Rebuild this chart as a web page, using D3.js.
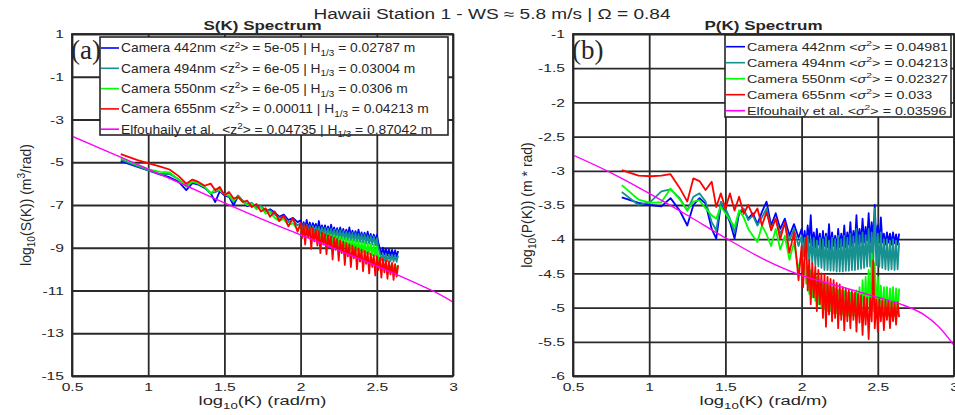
<!DOCTYPE html>
<meta charset='utf-8'>
<style>
    body { margin: 0; background: #fff; }
    svg { display: block; }
    text { font-family: 'Liberation Sans', Arial, Helvetica, sans-serif; fill: #262626; }
    .tick line { stroke: #2a2a2a; stroke-width: 1.8; }
</style>
<body>
<div id='chart'></div>
<script src='https://d3js.org/d3.v7.min.js'></script>
<script>
    // shared wavenumber grid, log10(K)
    const logK = [0.82, 0.93, 1.01, 1.08, 1.14, 1.20, 1.25, 1.29, 1.33, 1.37, 1.41, 1.44, 1.47, 1.50, 1.53,
        1.56, 1.59, 1.62, 1.65, 1.68, 1.71, 1.74, 1.77, 1.80, 1.83, 1.86, 1.89, 1.92, 1.95, 1.98,
        2.00, 2.01, 2.02, 2.03, 2.04, 2.05, 2.06, 2.07, 2.08, 2.09, 2.10, 2.11, 2.12, 2.13, 2.14, 2.15,
        2.16, 2.17, 2.18, 2.19, 2.20, 2.21, 2.22, 2.23, 2.24, 2.25, 2.26, 2.27, 2.28, 2.29, 2.30, 2.31,
        2.32, 2.33, 2.34, 2.35, 2.36, 2.37, 2.38, 2.39, 2.40, 2.41, 2.42, 2.43, 2.44, 2.45, 2.46, 2.47,
        2.48, 2.49, 2.50, 2.51, 2.52, 2.53, 2.54, 2.55, 2.56, 2.57, 2.58, 2.59, 2.60, 2.61, 2.62, 2.63, 2.64];

    // S(K) spectra, log10
    const s442 = [-4.95, -5.22, -5.40, -5.58, -5.70, -5.92, -6.30, -5.98, -6.05, -6.20, -6.45, -6.86, -6.35, -6.55, -6.62,
        -7.00, -6.60, -6.80, -7.05, -6.95, -7.15, -7.05, -7.30, -7.20, -7.35, -7.55, -7.45, -7.70, -7.60, -7.80,
        -7.72, -8.05, -7.80, -8.10, -7.70, -8.12, -7.82, -8.15, -7.85, -8.05, -7.88, -8.20, -7.75, -8.22, -7.95, -8.25,
        -7.95, -8.28, -8.00, -8.30, -7.92, -8.32, -8.05, -8.35, -8.08, -8.38, -8.05, -8.40, -8.12, -8.42, -8.15, -8.45,
        -8.05, -8.47, -8.20, -8.50, -8.22, -8.52, -8.15, -8.55, -8.28, -8.57, -8.30, -8.60, -8.25, -8.62, -8.35, -8.65,
        -8.38, -8.67, -8.40, -8.75, -9.05, -9.30, -9.00, -9.32, -9.05, -9.35, -9.08, -9.38, -9.10, -9.40, -9.12, -9.42, -9.15];
    const s494 = [-4.88, -5.18, -5.40, -5.55, -5.55, -5.80, -6.10, -5.90, -6.00, -6.15, -6.45, -6.40, -6.30, -6.50, -6.60,
        -6.85, -6.55, -6.80, -6.95, -6.90, -7.10, -7.05, -7.30, -7.25, -7.45, -7.60, -7.55, -7.80, -7.70, -7.95,
        -7.85, -8.20, -7.90, -8.25, -7.92, -8.28, -7.95, -8.30, -7.98, -8.33, -8.00, -8.36, -8.02, -8.40, -8.05, -8.42,
        -8.08, -8.45, -8.10, -8.48, -8.12, -8.50, -8.15, -8.53, -8.18, -8.56, -8.20, -8.58, -8.22, -8.61, -8.25, -8.64,
        -8.28, -8.66, -8.30, -8.69, -8.33, -8.72, -8.35, -8.74, -8.38, -8.77, -8.40, -8.80, -8.43, -8.82, -8.45, -8.85,
        -8.48, -8.88, -8.55, -9.00, -9.25, -9.58, -9.28, -9.60, -9.30, -9.62, -9.32, -9.63, -9.33, -9.65, -9.35, -9.66, -9.36];
    const s550 = [-4.80, -5.12, -5.35, -5.45, -5.48, -5.80, -6.15, -5.90, -6.00, -6.15, -6.47, -6.25, -6.30, -6.50, -6.55,
        -6.80, -6.60, -6.85, -7.00, -6.95, -7.20, -7.10, -7.40, -7.35, -7.60, -7.75, -7.65, -7.95, -7.85, -8.15,
        -8.00, -8.40, -8.05, -8.45, -8.10, -8.50, -8.12, -8.55, -8.18, -8.58, -8.20, -8.62, -8.25, -8.66, -8.28, -8.70,
        -8.32, -8.74, -8.35, -8.78, -8.40, -8.82, -8.42, -8.86, -8.46, -8.90, -8.50, -8.94, -8.52, -8.98, -8.56, -9.02,
        -8.60, -9.06, -8.62, -9.10, -8.66, -9.14, -8.70, -9.18, -8.72, -9.22, -8.76, -9.26, -8.80, -9.30, -8.82, -9.34,
        -8.86, -9.38, -8.95, -9.45, -9.70, -10.02, -9.72, -10.04, -9.74, -10.05, -9.75, -10.06, -9.76, -10.08, -9.78, -10.09, -9.80];
    const s655 = [-4.62, -4.90, -5.06, -5.20, -5.34, -5.65, -6.00, -5.81, -5.92, -6.10, -6.00, -6.31, -6.16, -6.54, -6.39,
        -6.70, -6.62, -6.86, -6.80, -7.10, -6.95, -7.30, -7.15, -7.55, -7.30, -7.75, -7.50, -8.00, -7.60, -8.25,
        -7.85, -8.55, -7.91, -8.85, -7.97, -8.50, -8.04, -9.05, -8.10, -8.70, -8.16, -8.90, -8.22, -9.25, -8.28, -8.85,
        -8.35, -9.30, -8.41, -9.00, -8.47, -9.55, -8.53, -9.10, -8.59, -9.60, -8.66, -9.25, -8.72, -9.80, -8.78, -9.40,
        -8.84, -9.90, -8.90, -9.50, -8.97, -10.00, -9.03, -9.65, -9.09, -10.10, -9.15, -9.75, -9.21, -10.20, -9.28, -9.90,
        -9.34, -10.30, -9.40, -10.05, -9.46, -10.40, -9.52, -10.15, -9.58, -10.45, -9.64, -10.25, -9.71, -10.50, -9.77, -10.35, -9.83];

    // P(K) spectra, log10
    const p442 = [-3.39, -3.47, -3.50, -3.52, -3.40, -3.58, -3.80, -3.50, -3.40, -3.48, -3.85, -3.99, -3.50, -3.60, -3.75,
        -3.99, -3.62, -3.58, -3.70, -3.62, -3.78, -3.60, -3.45, -3.80, -3.62, -3.85, -3.70, -3.95, -3.78, -3.98,
        -3.85, -4.05, -3.88, -4.10, -3.80, -4.05, -3.65, -4.10, -3.90, -4.12, -3.85, -4.08, -3.92, -4.15, -3.88, -4.10,
        -3.92, -4.12, -3.78, -4.15, -3.90, -4.10, -3.95, -4.15, -3.85, -4.12, -3.92, -4.10, -3.80, -4.12, -3.90, -4.08,
        -3.75, -4.10, -3.88, -4.05, -3.65, -4.08, -3.85, -4.05, -3.70, -4.05, -3.82, -4.02, -3.62, -4.05, -3.75, -4.00,
        -3.50, -4.05, -3.80, -4.05, -3.68, -4.05, -3.92, -4.08, -3.90, -4.05, -3.92, -4.08, -3.90, -4.06, -3.93, -4.08, -3.92];
    const p494 = [-3.31, -3.50, -3.45, -3.30, -3.27, -3.40, -3.58, -3.38, -3.33, -3.45, -3.75, -3.87, -3.45, -3.55, -3.70,
        -3.90, -3.60, -3.55, -3.72, -3.65, -3.80, -3.68, -3.55, -3.85, -3.70, -3.92, -3.78, -4.02, -3.85, -4.10,
        -3.95, -4.25, -3.98, -4.30, -3.95, -4.32, -4.00, -4.35, -3.98, -4.38, -4.02, -4.40, -3.98, -4.42, -4.00, -4.45,
        -3.96, -4.45, -4.02, -4.46, -3.98, -4.46, -4.00, -4.47, -3.95, -4.47, -4.00, -4.47, -3.95, -4.46, -3.98, -4.46,
        -3.92, -4.45, -3.96, -4.45, -3.85, -4.44, -3.94, -4.43, -3.90, -4.42, -3.94, -4.40, -3.85, -4.40, -3.90, -4.38,
        -3.55, -4.38, -3.92, -4.40, -3.90, -4.42, -4.00, -4.44, -4.00, -4.45, -4.02, -4.44, -4.00, -4.45, -4.02, -4.44, -4.05];
    const p550 = [-3.21, -3.42, -3.47, -3.46, -3.26, -3.42, -3.58, -3.45, -3.43, -3.55, -3.65, -3.70, -3.52, -3.62, -3.72,
        -3.82, -3.58, -3.68, -3.85, -3.95, -4.04, -3.80, -3.93, -4.10, -3.85, -4.15, -3.95, -4.30, -4.05, -4.45,
        -4.20, -4.60, -4.30, -4.65, -4.40, -4.80, -4.45, -4.85, -4.50, -4.90, -4.55, -4.95, -4.60, -5.00, -4.62, -5.02,
        -4.65, -5.05, -4.68, -5.05, -4.70, -5.08, -4.72, -5.08, -4.74, -5.10, -4.75, -5.10, -4.76, -5.12, -4.78, -5.12,
        -4.78, -5.12, -4.80, -5.12, -4.75, -5.12, -4.70, -5.10, -4.60, -5.10, -4.55, -5.10, -4.45, -5.08, -4.21, -5.05,
        -4.35, -5.05, -4.55, -5.08, -4.68, -5.10, -4.70, -5.12, -4.70, -5.12, -4.72, -5.12, -4.70, -5.12, -4.72, -5.10, -4.72];
    const p655 = [-2.99, -3.07, -3.08, -3.07, -3.05, -3.25, -3.45, -3.11, -3.15, -3.28, -3.16, -3.53, -3.33, -3.55, -3.33,
        -3.58, -3.38, -3.63, -3.50, -3.66, -3.55, -3.80, -3.60, -3.87, -3.70, -4.00, -3.75, -4.20, -3.90, -4.60,
        -4.10, -4.70, -4.20, -3.97, -4.75, -4.30, -4.95, -4.35, -4.85, -4.40, -5.05, -4.45, -4.95, -4.50, -5.15, -4.52,
        -5.28, -4.55, -5.10, -4.58, -5.20, -4.60, -5.15, -4.64, -5.30, -4.66, -5.18, -4.70, -5.33, -4.72, -5.20, -4.74,
        -5.30, -4.76, -5.18, -4.78, -5.35, -4.80, -5.22, -4.82, -5.40, -4.84, -5.25, -4.86, -5.46, -4.86, -5.20, -4.31,
        -5.30, -4.88, -5.35, -4.88, -5.20, -4.90, -5.33, -4.90, -5.18, -4.90, -5.30, -4.92, -5.20, -4.92, -5.25, -4.92, -5.14];

    // Elfouhaily et al. model
    const elfK = [0.5, 0.75, 1.0, 1.25, 1.5, 1.75, 2.0, 2.25, 2.5, 2.65, 2.8, 2.9, 3.0];
    const elfS = [-3.78, -4.55, -5.32, -6.10, -6.90, -7.67, -8.40, -9.12, -9.86, -10.32, -10.80, -11.14, -11.54];
    const elfP = [-2.77, -3.03, -3.33, -3.65, -3.98, -4.29, -4.53, -4.69, -4.85, -4.95, -5.10, -5.28, -5.55];

    // legend contents
    const seriesNames = ['Camera 442nm', 'Camera 494nm', 'Camera 550nm', 'Camera 655nm', 'Elfouhaily et al. '];
    const meanZ2 = ['5e-05', '6e-05', '6e-05', '0.00011', '0.04735'];
    const h13 = ['0.02787', '0.03004', '0.0306', '0.04213', '0.87042'];
    const mss = ['0.04981', '0.04213', '0.02327', '0.033', '0.03596'];

    const xTicks = [0.5, 1, 1.5, 2, 2.5, 3];
    const sTicks = [1, -1, -3, -5, -7, -9, -11, -13, -15];
    const pTicks = [-1, -1.5, -2, -2.5, -3, -3.5, -4, -4.5, -5, -5.5, -6];

    const colors = ['#0000ff', '#16918f', '#00ff00', '#ff0000', '#ff00ff'];

    const W = 955, H = 415, SX = 1.36;

    const svg = d3.select('#chart').append('svg')
        .attr('width', W).attr('height', H);

    // horizontally stretched text, like the original figure
    const hText = (parent, x, y, sx, size) => parent.append('text')
        .attr('transform', `translate(${x},${y}) scale(${sx},1)`)
        .style('font-size', size + 'px');

    const rich = (sel, parts, fs) => {
        let shift = 0;
        parts.forEach(p => {
            const ts = sel.append('tspan').text(p.t);
            const target = p.sup ? -fs * 0.4 : p.sub ? fs * 0.3 : 0;
            if (target !== shift) { ts.attr('dy', target - shift); shift = target; }
            if (p.sup || p.sub) ts.style('font-size', (fs * 0.72) + 'px');
            if (p.it) ts.style('font-style', 'italic');
        });
    };

    const panels = [
        {
            id: 'S', x0: 72, x1: 453, y0: 34, y1: 376, yDomain: [-15, 1], yTicks: sTicks,
            series: [s442, s494, s550, s655], elf: elfS, title: 'S(K) Spectrum', tag: '(a)',
            ylab: [{ t: 'log' }, { t: '10', sub: true }, { t: '(S(K)) (m' }, { t: '3', sup: true }, { t: '/rad)' }],
        },
        {
            id: 'P', x0: 573, x1: 954, y0: 34, y1: 376, yDomain: [-6, -1], yTicks: pTicks,
            series: [p442, p494, p550, p655], elf: elfP, title: 'P(K) Spectrum', tag: '(b)',
            ylab: [{ t: 'log' }, { t: '10', sub: true }, { t: '(P(K)) (m * rad)' }],
        },
    ];

    const fmt = d => String(d);

    panels.forEach(p => {
        const g = svg.append('g');
        const x = d3.scaleLinear().domain([0.5, 3]).range([p.x0, p.x1]);
        const y = d3.scaleLinear().domain(p.yDomain).range([p.y1, p.y0]);

        // grid + tick labels
        const xa = g.append('g')
            .attr('transform', `translate(0,${p.y1})`)
            .call(d3.axisBottom(x).tickValues(xTicks).tickSize(-(p.y1 - p.y0)).tickFormat(fmt));
        xa.select('.domain').remove();
        xa.selectAll('text')
            .attr('y', 15.5).attr('dy', null)
            .attr('transform', `scale(${SX},1)`)
            .style('font-size', '11.5px').attr('fill', '#262626');

        const ya = g.append('g')
            .attr('transform', `translate(${p.x0},0)`)
            .call(d3.axisLeft(y).tickValues(p.yTicks).tickSize(-(p.x1 - p.x0)).tickFormat(fmt));
        ya.select('.domain').remove();
        ya.selectAll('text')
            .attr('x', -8 / SX)
            .attr('transform', `scale(${SX},1)`)
            .style('font-size', '11.5px').attr('fill', '#262626');

        // clip for data
        g.append('clipPath').attr('id', 'clip' + p.id)
            .append('rect')
            .attr('x', p.x0).attr('y', p.y0)
            .attr('width', p.x1 - p.x0).attr('height', p.y1 - p.y0);

        const line = d3.line().x(d => x(d[0])).y(d => y(d[1]));
        const plot = g.append('g').attr('clip-path', `url(#clip${p.id})`);

        p.series.forEach((vals, i) => {
            plot.append('path')
                .datum(logK.map((k, j) => [k, vals[j]]))
                .attr('d', line)
                .attr('fill', 'none')
                .attr('stroke', colors[i])
                .attr('stroke-width', 1.8)
                .attr('stroke-linejoin', 'round');
        });

        plot.append('path')
            .datum(elfK.map((k, j) => [k, p.elf[j]]))
            .attr('d', line.curve(d3.curveMonotoneX))
            .attr('fill', 'none')
            .attr('stroke', colors[4])
            .attr('stroke-width', 1.4);

        // frame
        g.append('rect')
            .attr('x', p.x0).attr('y', p.y0)
            .attr('width', p.x1 - p.x0).attr('height', p.y1 - p.y0)
            .attr('fill', 'none').attr('stroke', '#262626').attr('stroke-width', 1.8);

        // panel title
        hText(g, (p.x0 + p.x1) / 2, 30, SX, 12.5)
            .attr('text-anchor', 'middle')
            .style('font-weight', 'bold')
            .attr('fill', '#111')
            .text(p.title);

        // axis labels
        const xl = hText(g, (p.x0 + p.x1) / 2, 405, SX, 13.5).attr('text-anchor', 'middle');
        rich(xl, [{ t: 'log' }, { t: '10', sub: true }, { t: '(K) (rad/m)' }], 13.5);

        const yl = g.append('text')
            .attr('transform', `translate(${p.x0 - 41},${(p.y0 + p.y1) / 2}) rotate(-90)`)
            .attr('text-anchor', 'middle')
            .style('font-size', '14px');
        rich(yl, p.ylab, 14);

        // panel tag
        g.append('text')
            .attr('x', p.x0 - 1).attr('y', 59)
            .style('font-family', "'Liberation Serif', 'Times New Roman', serif")
            .style('font-size', '27px')
            .attr('fill', '#000')
            .text(p.tag);
    });

    // legends
    const legendS = svg.append('g').attr('transform', 'translate(100,37)');
    legendS.append('rect').attr('width', 348).attr('height', 98)
        .attr('fill', '#fff').attr('stroke', '#262626').attr('stroke-width', 1.6);
    seriesNames.forEach((name, i) => {
        const yy = 11 + i * 20.3;
        legendS.append('line').attr('x1', 1).attr('x2', 19).attr('y1', yy).attr('y2', yy)
            .attr('stroke', colors[i]).attr('stroke-width', 1.6);
        const t = hText(legendS, 21, yy + 4.3, 1.15, 12).style('white-space', 'pre');
        rich(t, [
            { t: name + ' <z' }, { t: '2', sup: true }, { t: '> = ' + meanZ2[i] + ' | H' },
            { t: '1/3', sub: true }, { t: ' = ' + h13[i] + ' m' },
        ], 12);
    });

    const legendP = svg.append('g').attr('transform', 'translate(725,35)');
    legendP.append('rect').attr('width', 226).attr('height', 82)
        .attr('fill', '#fff').attr('stroke', '#262626').attr('stroke-width', 1.6);
    seriesNames.forEach((name, i) => {
        const yy = 11.7 + i * 16;
        legendP.append('line').attr('x1', 1).attr('x2', 20).attr('y1', yy).attr('y2', yy)
            .attr('stroke', colors[i]).attr('stroke-width', 1.6);
        const t = hText(legendP, 22, yy + 3.8, 1.36, 10.5).style('white-space', 'pre');
        rich(t, [
            { t: name.trim() + ' <' }, { t: 'σ', it: true }, { t: '2', sup: true }, { t: '> = ' + mss[i] },
        ], 10.5);
    });

    // figure title
    hText(svg, 492, 19, SX, 14)
        .attr('text-anchor', 'middle')
        .text('Hawaii Station 1 - WS ≈ 5.8 m/s | Ω = 0.84');
</script>
</body>
